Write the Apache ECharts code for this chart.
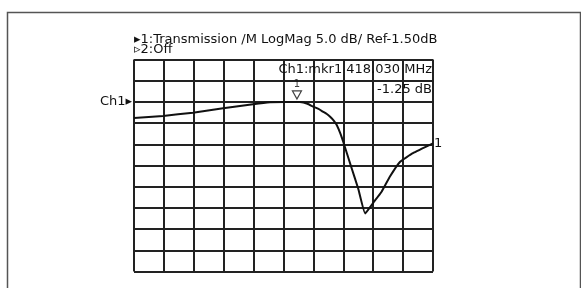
<!DOCTYPE html>
<html>
<head>
<meta charset="utf-8">
<script src="https://cdn.jsdelivr.net/npm/echarts@6/dist/echarts.min.js"></script>
<style>
  html, body { margin: 0; padding: 0; background: #fff; }
  #chart { width: 581px; height: 288px; }
</style>
</head>
<body>
<div id="chart"></div>
<script>
// trace in grid divisions (x) and dB (y)
const traceX = [0, 0.97, 1.97, 2.98, 3.98, 4.55, 5.05, 5.55, 5.8, 5.99, 6.17, 6.32, 6.45, 6.56, 6.68, 6.78, 6.9, 7.0, 7.25, 7.5, 7.73, 8.0, 8.28, 8.56, 8.9, 9.33, 10];
const traceDb = [-5.3, -4.8, -4.05, -3.0, -2.05, -1.6, -1.5, -1.55, -1.95, -2.6, -3.15, -3.8, -4.35, -5.0, -5.9, -6.95, -8.9, -10.95, -16.5, -22.0, -27.8, -25.3, -22.7, -19.1, -15.6, -13.6, -11.3];
const markerX = [5.45];
const markerDb = [-1.5];
const refLevel = -1.5;
const scaleDb = 5;
const headerLines = ['\u25B81:Transmission /M LogMag 5.0 dB/ Ref-1.50dB', '\u25B92:Off'];
const markerText = ['Ch1:mkr1 418.030 MHz', '-1.25 dB'];

const font = 'DejaVu Sans';
const gridColor = '#222';

var myChart = echarts.init(document.getElementById('chart'), null, { renderer: 'canvas' });

let option = {
    animation: false,
    backgroundColor: '#fff',
    title: [
        {
            text: headerLines.join('\n'),
            left: 134, top: 35, padding: 0,
            textStyle: { fontFamily: font, fontSize: 13, fontWeight: 'normal', color: '#111', lineHeight: 10 }
        },
        {
            text: markerText[0],
            right: 149, top: 63, padding: 0,
            textStyle: { fontFamily: font, fontSize: 13, fontWeight: 'normal', color: '#111' }
        },
        {
            text: markerText[1],
            right: 149, top: 83, padding: 0,
            textStyle: { fontFamily: font, fontSize: 13, fontWeight: 'normal', color: '#111' }
        }
    ],
    graphic: [
        {
            type: 'rect',
            shape: { x: 7.5, y: 12.5, width: 573, height: 300 },
            style: { fill: 'none', stroke: '#555', lineWidth: 1.5 },
            silent: true
        }
    ],
    grid: { left: 134, right: 148, top: 59.5, height: 212 },
    xAxis: {
        type: 'value', min: 0, max: 10, interval: 1,
        axisLine: { show: false }, axisTick: { show: false }, axisLabel: { show: false },
        splitLine: { show: true, lineStyle: { color: gridColor, width: 2 } }
    },
    yAxis: {
        type: 'value', min: refLevel - 8 * scaleDb, max: refLevel + 2 * scaleDb, interval: scaleDb,
        axisLine: { show: false }, axisTick: { show: false },
        axisLabel: {
            show: true, margin: 2, color: '#111', fontFamily: font, fontSize: 13,
            formatter: v => Math.abs(v - refLevel) < 0.01 ? 'Ch1\u25B8' : ''
        },
        splitLine: { show: true, lineStyle: { color: gridColor, width: 2 } }
    },
    series: [
        {
            type: 'line',
            data: traceX.map((x, i) => [x, traceDb[i]]),
            smooth: 0.12,
            showSymbol: false,
            lineStyle: { color: '#111', width: 2 },
            endLabel: {
                show: true, formatter: '1', distance: 1,
                fontFamily: font, fontSize: 13, color: '#111'
            },
            z: 3
        },
        {
            type: 'scatter',
            data: markerX.map((x, i) => [x, markerDb[i]]),
            symbol: 'triangle',
            symbolRotate: 180,
            symbolSize: [9, 8],
            symbolOffset: [0, -7],
            itemStyle: { color: '#fff', borderColor: '#111', borderWidth: 1.2 },
            label: {
                show: true, position: 'top', formatter: '1', distance: 1,
                fontFamily: font, fontSize: 10, color: '#111'
            },
            z: 4
        }
    ]
};

option && myChart.setOption(option);
</script>
</body>
</html>
